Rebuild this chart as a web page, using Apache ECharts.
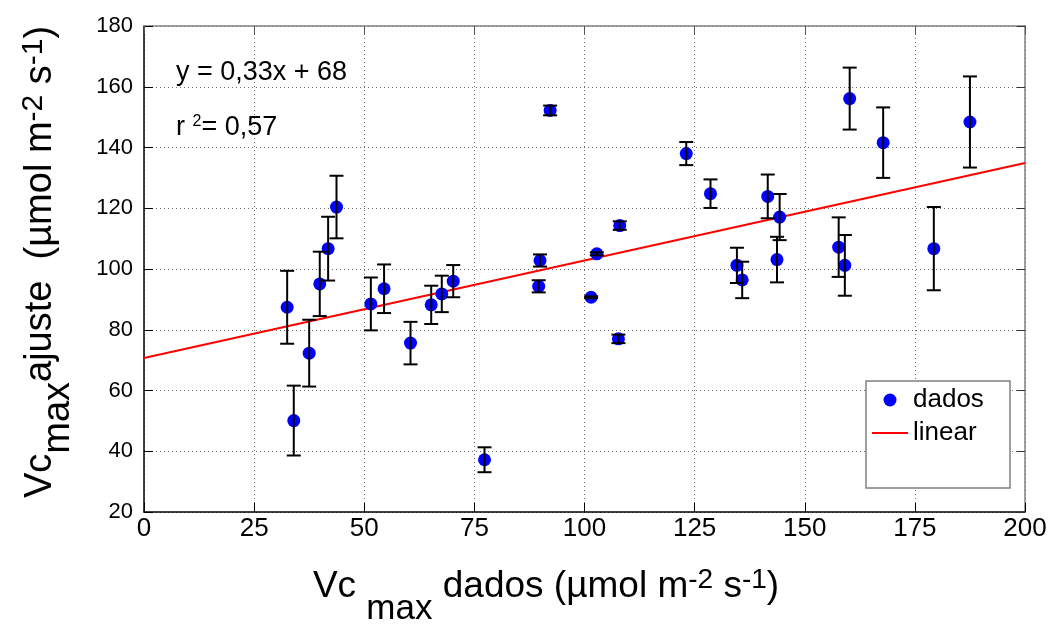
<!DOCTYPE html>
<html><head><meta charset="utf-8">
<script src="https://cdn.jsdelivr.net/npm/echarts/dist/echarts.min.js"></script>
<style>html,body{margin:0;padding:0;background:#fff}#c{width:1051px;height:627px}</style>
</head><body><div id="c"></div>
<script>
// ---- data ----
const xData   = [32.5, 34.0, 37.5, 39.9, 41.8, 43.7, 51.5, 54.5, 60.5, 65.2, 67.6, 70.2, 77.3, 89.6, 89.9, 92.2, 101.5, 102.8, 107.7, 108.0, 123.1, 128.6, 134.6, 135.8, 141.6, 143.7, 144.3, 157.7, 159.1, 160.2, 167.8, 179.3, 187.5];
const yData   = [87.4, 50.1, 72.3, 95.1, 106.7, 120.4, 88.5, 93.5, 75.6, 88.2, 91.8, 96.0, 37.2, 94.3, 102.8, 152.2, 90.7, 105.0, 77.0, 114.3, 138.0, 124.8, 101.2, 96.4, 123.9, 103.1, 117.1, 107.2, 101.2, 156.1, 141.6, 106.7, 148.4];
const errData = [12.0, 11.5, 11.0, 10.6, 10.5, 10.3, 8.7, 8.0, 7.0, 6.3, 6.0, 5.3, 4.1, 2.0, 2.0, 1.6, 0.3, 0.5, 1.4, 1.4, 3.8, 4.7, 5.8, 6.0, 7.2, 7.5, 7.6, 9.8, 10.0, 10.2, 11.6, 13.7, 15.0];
const fitX = [0, 200];
const fitY = [70.7, 134.9];
const xAxisRange = [0, 200, 25];
const yAxisRange = [20, 180, 20];
const seriesNames = ['dados', 'linear'];
const equationText = 'y = 0,33x + 68';
const r2Text = '0,57';

const FONT = "'Liberation Sans', Arial, Helvetica, sans-serif";
const chart = echarts.init(document.getElementById('c'), null, {renderer: 'canvas'});

const errPoints = xData.map((x, i) => [x, yData[i], errData[i]]);
const dots = xData.map((x, i) => [x, yData[i]]);
const fitLine = fitX.map((x, i) => [x, fitY[i]]);

const grid = {left: 144, right: 26, top: 26, bottom: 115};
const splitLine = {show: true, lineStyle: {color: '#6e6e6e', type: [1, 3], width: 1}};

function rt(fs, pad, lh) {
  return {fontSize: fs, fontFamily: FONT, lineHeight: lh, verticalAlign: 'top', padding: [pad, 0, 0, 0], fill: '#000'};
}

chart.setOption({
  animation: false,
  backgroundColor: '#fff',
  grid: grid,
  xAxis: [{
    type: 'value', min: xAxisRange[0], max: xAxisRange[1], interval: xAxisRange[2],
    axisLine: {show: true, onZero: false, lineStyle: {color: '#000', width: 1.5}},
    axisTick: {show: true, inside: true, length: 9, lineStyle: {color: '#000', width: 1}},
    axisLabel: {fontSize: 26, fontFamily: FONT, color: '#000', margin: 4},
    splitLine: splitLine
  }, {
    type: 'value', position: 'top', min: xAxisRange[0], max: xAxisRange[1], interval: xAxisRange[2],
    axisLine: {show: true, onZero: false, lineStyle: {color: '#808080', width: 1.5}},
    axisTick: {show: true, inside: true, length: 8, lineStyle: {color: '#555', width: 1}},
    axisLabel: {show: false}, splitLine: {show: false}
  }],
  yAxis: [{
    type: 'value', min: yAxisRange[0], max: yAxisRange[1], interval: yAxisRange[2],
    axisLine: {show: true, onZero: false, lineStyle: {color: '#000', width: 1.5}},
    axisTick: {show: true, inside: true, length: 9, lineStyle: {color: '#000', width: 1}},
    axisLabel: {fontSize: 22, fontFamily: FONT, color: '#000', margin: 11},
    splitLine: splitLine
  }, {
    type: 'value', position: 'right', min: yAxisRange[0], max: yAxisRange[1], interval: yAxisRange[2],
    axisLine: {show: true, onZero: false, lineStyle: {color: '#808080', width: 1.5}},
    axisTick: {show: true, inside: true, length: 8, lineStyle: {color: '#333', width: 1}},
    axisLabel: {show: false}, splitLine: {show: false}
  }],
  legend: {
    data: [
      {name: seriesNames[0], icon: 'circle'},
      {name: seriesNames[1], icon: 'path://M0,0H36V2H0Z'}
    ],
    orient: 'vertical', left: 872, top: 385, padding: 0, symbolKeepAspect: true,
    itemWidth: 36, itemHeight: 13, itemGap: 3, selectedMode: false,
    textStyle: {fontSize: 26, fontFamily: FONT, color: '#000', lineHeight: 30}
  },
  graphic: [
    {type: 'rect', z: 3, shape: {x: 866, y: 381, width: 144, height: 107},
     style: {fill: '#fff', stroke: '#808080', lineWidth: 1.5}},
    {type: 'text', z: 5, x: 176, y: 72.5,
     style: {text: equationText, font: '27px ' + FONT, fill: '#000', align: 'left', verticalAlign: 'middle'}},
    {type: 'text', z: 5, x: 176, y: 113.4,
     style: {text: '{b|r }{s|2}{b|= ' + r2Text + '}', align: 'left', verticalAlign: 'top', fill: '#000',
       rich: {b: rt(27, 1, 14), s: rt(16, 0, 14)}}},
    {type: 'text', z: 5, x: 546, y: 566,
     style: {text: '{b|Vc }{sub|max}{b| dados (µmol m}{sup|-2}{b| s}{sup|-1}{b|)}',
       align: 'center', verticalAlign: 'top', fill: '#000',
       rich: {b: rt(37, 2, 20), sub: rt(35, 26, 20), sup: rt(28, 0, 20)}}},
    {type: 'text', z: 5, x: 19, y: 262, rotation: Math.PI / 2,
     style: {text: '{b|Vc}{sub|max}{b|ajuste  (µmol m}{sup|-2}{b| s}{sup|-1}{b|)}',
       align: 'center', verticalAlign: 'top', fill: '#000',
       rich: {b: rt(38, 3, 20), sub: rt(38, 21, 20), sup: rt(30, 0, 20)}}}
  ],
  series: [
    {name: 'linear', type: 'line', data: fitLine, symbol: 'none', z: 2,
     lineStyle: {color: '#ff0000', width: 2}, itemStyle: {color: '#ff0000'}},
    {name: 'dados', type: 'scatter', data: dots, symbol: 'circle', symbolSize: 13, z: 3,
     itemStyle: {color: '#0000ff', opacity: 1}},
    {name: 'err', type: 'custom', data: errPoints, z: 4, encode: {x: 0, y: 1},
     renderItem: function (params, api) {
       const x = api.value(0), y = api.value(1), e = api.value(2);
       const t = api.coord([x, y + e]);
       const b = api.coord([x, y - e]);
       const hw = 7;
       const st = {stroke: '#000', lineWidth: 2};
       return {type: 'group', children: [
         {type: 'line', shape: {x1: t[0], y1: t[1], x2: b[0], y2: b[1]}, style: st},
         {type: 'line', shape: {x1: t[0] - hw, y1: t[1], x2: t[0] + hw, y2: t[1]}, style: st},
         {type: 'line', shape: {x1: b[0] - hw, y1: b[1], x2: b[0] + hw, y2: b[1]}, style: st}
       ]};
     }}
  ]
});
</script>
</body></html>
